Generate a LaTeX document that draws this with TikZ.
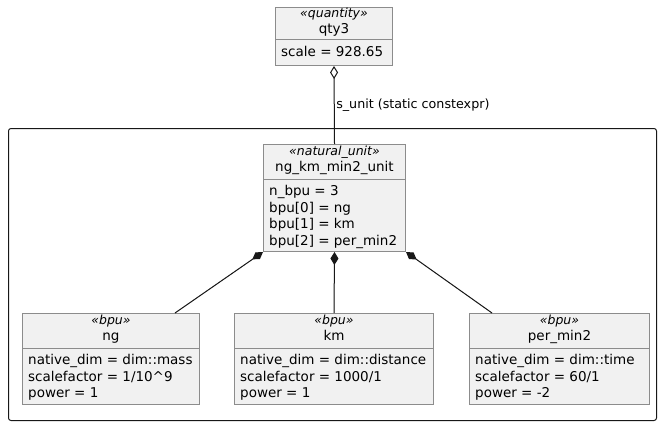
\documentclass[tikz,border=0pt]{standalone}
\usepackage{fontspec}
\setmainfont{DejaVu Sans}
\usetikzlibrary{arrows.meta,positioning,calc}
\definecolor{umlFill}{HTML}{F1F1F1}
\definecolor{umlBorder}{HTML}{8C8C8C}
\definecolor{umlLine}{HTML}{181818}
\tikzset{
  classbox/.style={draw=umlBorder,line width=1pt,fill=umlFill,inner sep=0pt,anchor=north west},
  divider/.style={draw=umlBorder,line width=1pt},
  stereo/.style={anchor=base,inner sep=0pt,font=\fontsize{12.5}{14}\selectfont\itshape},
  cname/.style={anchor=base,inner sep=0pt,font=\fontsize{13.5}{16.5}\selectfont},
  fields/.style={anchor=north west,inner sep=0pt,align=left,font=\fontsize{13.5}{16.5}\selectfont},
  pkgframe/.style={draw=umlLine,line width=1pt,rounded corners=2.5pt,inner sep=0pt,anchor=north west},
  aggr/.style={{Diamond[open,length=13pt,width=8pt]}-,line width=1pt,draw=umlLine},
  compo/.style={{Diamond[length=13pt,width=8pt]}-,line width=1pt,draw=umlLine,fill=umlLine},
  rolelabel/.style={font=\fontsize{12.7}{15}\selectfont,inner sep=1.5pt,anchor=west,fill=none},
}
% #1 name, #2 top left, #3 width, #4 height, #5 divider depth, #6 stereotype, #7 title, #8 fields
\newcommand{\umlclass}[8]{%
  \node[classbox,minimum width=#3,minimum height=#4] (#1) at (#2) {};
  \draw[divider] ([yshift=-#5]#1.north west) -- ([yshift=-#5]#1.north east);
  \node[stereo] (#1-st) at ([yshift=-11pt]#1.north) {«#6»};
  \node[cname] (#1-nm) at ([yshift=-27pt]#1.north) {#7};
  \node[fields] (#1-fd) at ([xshift=6pt,yshift=-#5-6.5pt]#1.north west) {#8};
}

\begin{document}
\begin{tikzpicture}[x=1pt,y=-1pt]
  \useasboundingbox (0,0) rectangle (660,425);
  \fill[white] (0,0) rectangle (660,425);
  % package frame
  \node[pkgframe,minimum width=648pt,minimum height=292pt] (pkg) at (8,128) {};
  % classes
  \umlclass{qty}{275,7}{117pt}{58pt}{33pt}{quantity}{qty3}{scale = 928.65}
  \umlclass{nat}{263,144}{142pt}{107pt}{35pt}{natural\_unit}{ng\_km\_min2\_unit}
    {n\_bpu = 3\\bpu[0] = ng\\bpu[1] = km\\bpu[2] = per\_min2}
  \umlclass{ng}{22,313}{177pt}{91pt}{35pt}{bpu}{ng}
    {native\_dim = dim::mass\\scalefactor = 1/10\textasciicircum9\\power = 1}
  \umlclass{km}{234,313}{199pt}{91pt}{35pt}{bpu}{km}
    {native\_dim = dim::distance\\scalefactor = 1000/1\\power = 1}
  \umlclass{per}{469,313}{180pt}{91pt}{35pt}{bpu}{per\_min2}
    {native\_dim = dim::time\\scalefactor = 60/1\\power = -2}
  % relations
  \draw[aggr] (qty.south) -- node[rolelabel] (role) {s\_unit (static constexpr)} (nat.north);
  \draw[compo] (nat.south west) -- ([xshift=-25pt]ng.north east);
  \draw[compo] (nat.south) -- (km.north);
  \draw[compo] (nat.south east) -- ([xshift=23pt]per.north west);
\end{tikzpicture}
\end{document}
